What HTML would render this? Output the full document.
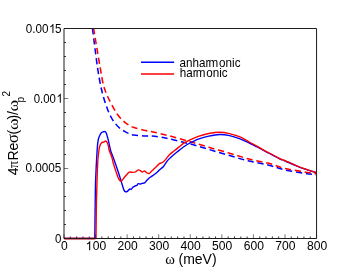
<!DOCTYPE html>
<html><head><meta charset="utf-8"><style>
html,body{margin:0;padding:0;background:#fff;}
svg{display:block;will-change:transform;font-family:"Liberation Sans",sans-serif;}
</style></head><body>
<svg width="357" height="276" viewBox="0 0 357 276">
<rect width="357" height="276" fill="#fff"/>
<g fill="none" stroke-linejoin="round">
<path d="M64.5,238.5 H95" stroke="#ffd5e2" stroke-width="3.2"/>
<path d="M92.50,28.40 C92.95,32.00 94.30,43.07 95.20,50.00 C96.10,56.93 96.98,64.05 97.90,70.00 C98.82,75.95 99.75,81.12 100.70,85.70 C101.65,90.28 102.47,93.58 103.60,97.50 C104.73,101.42 106.27,105.95 107.50,109.20 C108.73,112.45 109.85,114.82 111.00,117.00 C112.15,119.18 113.07,120.55 114.40,122.30 C115.73,124.05 117.37,126.02 119.00,127.50 C120.63,128.98 122.53,130.18 124.20,131.20 C125.87,132.22 127.37,132.95 129.00,133.60 C130.63,134.25 131.53,134.72 134.00,135.10 C136.47,135.48 140.80,135.75 143.80,135.90 C146.80,136.05 149.30,135.82 152.00,136.00 C154.70,136.18 157.07,136.50 160.00,137.00 C162.93,137.50 164.73,137.88 169.60,139.00 C174.47,140.12 182.67,141.97 189.20,143.70 C195.73,145.43 202.07,147.42 208.80,149.40 C215.53,151.38 222.87,153.65 229.60,155.60 C236.33,157.55 242.67,159.50 249.20,161.10 C255.73,162.70 262.90,163.73 268.80,165.20 C274.70,166.67 278.70,168.57 284.60,169.90 C290.50,171.23 298.87,172.38 304.20,173.20 C309.53,174.02 314.53,174.53 316.60,174.80" stroke="#0000ff" stroke-width="1.55" stroke-dasharray="6.2 3.72" stroke-dashoffset="-0.07"/>
<path d="M93.60,28.40 C94.20,32.00 96.03,43.07 97.20,50.00 C98.37,56.93 99.53,64.05 100.60,70.00 C101.67,75.95 102.35,81.12 103.60,85.70 C104.85,90.28 106.30,93.52 108.10,97.50 C109.90,101.48 112.58,106.43 114.40,109.60 C116.22,112.77 117.37,114.47 119.00,116.50 C120.63,118.53 122.53,120.35 124.20,121.80 C125.87,123.25 127.37,124.23 129.00,125.20 C130.63,126.17 131.53,126.77 134.00,127.60 C136.47,128.43 140.80,129.52 143.80,130.20 C146.80,130.88 149.30,131.13 152.00,131.70 C154.70,132.27 157.07,132.90 160.00,133.60 C162.93,134.30 164.73,134.60 169.60,135.90 C174.47,137.20 182.67,139.50 189.20,141.40 C195.73,143.30 202.07,145.33 208.80,147.30 C215.53,149.27 222.87,151.23 229.60,153.20 C236.33,155.17 242.67,157.42 249.20,159.10 C255.73,160.78 262.90,161.77 268.80,163.30 C274.70,164.83 278.70,166.87 284.60,168.30 C290.50,169.73 298.87,170.98 304.20,171.90 C309.53,172.82 314.53,173.48 316.60,173.80" stroke="#ff0000" stroke-width="1.55" stroke-dasharray="6.2 3.743" stroke-dashoffset="0.27"/>
<path d="M64.00,238.40 L94.80,238.40 L95.20,203.00 C95.28,199.07 95.33,188.23 95.65,179.40 C95.98,170.57 96.71,156.67 97.15,150.00 C97.59,143.33 97.83,141.90 98.30,139.40 C98.77,136.90 99.45,136.13 100.00,135.00 C100.55,133.87 101.10,133.13 101.60,132.60 C102.10,132.07 102.40,131.97 103.00,131.80 C103.60,131.63 104.63,131.33 105.20,131.60 C105.77,131.87 105.92,132.10 106.40,133.40 C106.88,134.70 107.42,136.63 108.10,139.40 C108.78,142.17 109.93,147.72 110.50,150.00 C111.07,152.28 110.87,151.35 111.50,153.10 C112.13,154.85 113.13,157.23 114.30,160.50 C115.47,163.77 117.22,168.78 118.50,172.70 C119.78,176.62 121.07,181.05 122.00,184.00 C122.93,186.95 123.47,189.10 124.10,190.40 C124.73,191.70 125.20,191.68 125.80,191.80 C126.40,191.92 127.03,191.57 127.70,191.10 C128.37,190.63 129.22,189.28 129.80,189.00 C130.38,188.72 130.73,189.65 131.20,189.40 C131.67,189.15 132.02,188.05 132.60,187.50 C133.18,186.95 134.00,186.45 134.70,186.10 C135.40,185.75 136.22,185.80 136.80,185.40 C137.38,185.00 137.60,183.93 138.20,183.70 C138.80,183.47 139.68,184.07 140.40,184.00 C141.12,183.93 141.80,183.48 142.50,183.30 C143.20,183.12 143.90,183.37 144.60,182.90 C145.30,182.43 145.88,181.37 146.70,180.50 C147.52,179.63 148.55,178.48 149.50,177.70 C150.45,176.92 151.38,176.50 152.40,175.80 C153.42,175.10 154.67,174.23 155.60,173.50 C156.53,172.77 157.17,172.17 158.00,171.40 C158.83,170.63 159.68,169.72 160.60,168.90 C161.52,168.08 162.35,167.88 163.50,166.50 C164.65,165.12 166.18,162.23 167.50,160.60 C168.82,158.97 169.77,158.17 171.40,156.70 C173.03,155.23 175.35,153.37 177.30,151.80 C179.25,150.23 181.15,148.68 183.10,147.30 C185.05,145.92 187.37,144.45 189.00,143.50 C190.63,142.55 191.23,142.38 192.90,141.60 C194.57,140.82 196.35,139.72 199.00,138.80 C201.65,137.88 205.37,136.82 208.80,136.10 C212.23,135.38 216.13,134.58 219.60,134.50 C223.07,134.42 226.30,134.92 229.60,135.60 C232.90,136.28 236.13,137.37 239.40,138.60 C242.67,139.83 245.93,141.44 249.20,143.00 C252.47,144.56 255.73,146.26 259.00,147.95 C262.27,149.64 265.37,151.34 268.80,153.15 C272.23,154.96 276.97,157.53 279.60,158.80 C282.23,160.07 282.13,159.72 284.60,160.75 C287.07,161.78 291.13,163.65 294.40,165.00 C297.67,166.35 300.50,167.57 304.20,168.85 C307.90,170.13 314.53,172.06 316.60,172.70" stroke="#0000ff" stroke-width="1.4"/>
<path d="M64.00,238.45 L96.00,238.45 L96.40,203.00 C96.53,198.42 96.98,182.17 97.20,175.50 C97.42,168.83 97.52,166.40 97.70,163.00 C97.88,159.60 97.97,157.88 98.30,155.10 C98.63,152.32 99.15,148.35 99.70,146.30 C100.25,144.25 100.92,143.50 101.60,142.80 C102.28,142.10 103.10,142.40 103.80,142.10 C104.50,141.80 105.22,140.88 105.80,141.00 C106.38,141.12 106.85,141.92 107.30,142.80 C107.75,143.68 108.20,145.10 108.50,146.30 C108.80,147.50 108.55,148.22 109.10,150.00 C109.65,151.78 111.13,154.92 111.80,157.00 C112.47,159.08 112.63,160.78 113.10,162.50 C113.57,164.22 114.05,165.60 114.60,167.30 C115.15,169.00 115.70,170.73 116.40,172.70 C117.10,174.67 118.03,177.68 118.80,179.10 C119.57,180.52 120.12,181.43 121.00,181.20 C121.88,180.97 122.98,179.00 124.10,177.70 C125.22,176.40 126.75,174.35 127.70,173.40 C128.65,172.45 128.87,172.17 129.80,172.00 C130.73,171.83 132.37,172.40 133.30,172.40 C134.23,172.40 134.58,172.42 135.40,172.00 C136.22,171.58 137.37,170.13 138.20,169.90 C139.03,169.67 139.73,170.25 140.40,170.60 C141.07,170.95 141.50,171.93 142.20,172.00 C142.90,172.07 143.80,170.83 144.60,171.00 C145.40,171.17 146.22,172.60 147.00,173.00 C147.78,173.40 148.52,173.73 149.30,173.40 C150.08,173.07 150.72,171.93 151.70,171.00 C152.68,170.07 153.92,169.03 155.20,167.80 C156.48,166.57 158.18,164.48 159.40,163.60 C160.62,162.72 161.48,163.17 162.50,162.50 C163.52,161.83 164.35,160.90 165.50,159.60 C166.65,158.30 167.93,156.17 169.40,154.70 C170.87,153.23 172.67,152.10 174.30,150.80 C175.93,149.50 177.57,148.22 179.20,146.90 C180.83,145.58 182.43,143.98 184.10,142.90 C185.77,141.82 186.72,141.53 189.20,140.40 C191.68,139.27 195.73,137.25 199.00,136.10 C202.27,134.95 205.37,134.15 208.80,133.50 C212.23,132.85 216.13,132.18 219.60,132.20 C223.07,132.22 226.30,132.85 229.60,133.60 C232.90,134.35 236.13,135.30 239.40,136.70 C242.67,138.10 245.93,140.22 249.20,142.00 C252.47,143.78 255.73,145.60 259.00,147.40 C262.27,149.20 265.37,150.95 268.80,152.80 C272.23,154.65 276.97,157.22 279.60,158.50 C282.23,159.78 282.13,159.45 284.60,160.50 C287.07,161.55 291.13,163.43 294.40,164.80 C297.67,166.17 300.50,167.40 304.20,168.70 C307.90,170.00 314.53,171.95 316.60,172.60" stroke="#ff0000" stroke-width="1.4"/>
<path d="M141,62.35 H174.1" stroke="#0000ff" stroke-width="1.5"/>
<path d="M141,73.95 H174.1" stroke="#ff0000" stroke-width="1.5"/>
</g>
<g fill="none" stroke="#1c1c1c" stroke-width="1">
<path d="M64.0,28.5 H316.56 V238.5 H64.0 Z"/>
<path d="M64.00,238.5 v-4.2 M95.57,238.5 v-4.2 M127.14,238.5 v-4.2 M158.71,238.5 v-4.2 M190.28,238.5 v-4.2 M221.85,238.5 v-4.2 M253.42,238.5 v-4.2 M284.99,238.5 v-4.2 M316.56,238.5 v-4.2 M64.0,238.50 h4.2 M64.0,168.50 h4.2 M64.0,98.50 h4.2 M64.0,28.50 h4.2" stroke-width="0.6"/>
<path d="M70.31,238.5 v-2.0 M76.63,238.5 v-2.0 M82.94,238.5 v-2.0 M89.26,238.5 v-2.0 M101.88,238.5 v-2.0 M108.20,238.5 v-2.0 M114.51,238.5 v-2.0 M120.83,238.5 v-2.0 M133.45,238.5 v-2.0 M139.77,238.5 v-2.0 M146.08,238.5 v-2.0 M152.40,238.5 v-2.0 M165.02,238.5 v-2.0 M171.34,238.5 v-2.0 M177.65,238.5 v-2.0 M183.97,238.5 v-2.0 M196.59,238.5 v-2.0 M202.91,238.5 v-2.0 M209.22,238.5 v-2.0 M215.54,238.5 v-2.0 M228.16,238.5 v-2.0 M234.48,238.5 v-2.0 M240.79,238.5 v-2.0 M247.11,238.5 v-2.0 M259.73,238.5 v-2.0 M266.05,238.5 v-2.0 M272.36,238.5 v-2.0 M278.68,238.5 v-2.0 M291.30,238.5 v-2.0 M297.62,238.5 v-2.0 M303.93,238.5 v-2.0 M310.25,238.5 v-2.0 M64.0,224.50 h2.0 M64.0,210.50 h2.0 M64.0,196.50 h2.0 M64.0,182.50 h2.0 M64.0,154.50 h2.0 M64.0,140.50 h2.0 M64.0,126.50 h2.0 M64.0,112.50 h2.0 M64.0,84.50 h2.0 M64.0,70.50 h2.0 M64.0,56.50 h2.0 M64.0,42.50 h2.0" stroke-width="0.9"/>
<path d="M64.4,239.0 H94.4" stroke="#50000f" stroke-width="0.6" stroke-opacity="0.8"/>
</g>
<g font-size="12px" fill="#000">
<g transform="translate(64.4,250.2) scale(1.01,1.04)"><text x="-3.336" y="0">0</text></g><g transform="translate(96.0,250.2) scale(1.01,1.04)"><path transform="translate(-10.208,0) scale(0.005859,-0.005859)" d="M763,0 H583 V1147 Q518,1085 412.5,1023 Q307,961 223,930 V1104 Q374,1175 487,1276 Q600,1377 647,1472 H763 Z"/><text x="-3.336" y="0">00</text></g><g transform="translate(127.5,250.2) scale(1.01,1.04)"><text x="-10.008" y="0">200</text></g><g transform="translate(159.1,250.2) scale(1.01,1.04)"><text x="-10.008" y="0">300</text></g><g transform="translate(190.7,250.2) scale(1.01,1.04)"><text x="-10.008" y="0">400</text></g><g transform="translate(222.2,250.2) scale(1.01,1.04)"><text x="-10.008" y="0">500</text></g><g transform="translate(253.8,250.2) scale(1.01,1.04)"><text x="-10.008" y="0">600</text></g><g transform="translate(285.4,250.2) scale(1.01,1.04)"><text x="-10.008" y="0">700</text></g><g transform="translate(317.0,250.2) scale(1.01,1.04)"><text x="-10.008" y="0">800</text></g>
<g transform="translate(61.5,243.05) scale(0.96,1.04)"><text x="-6.672" y="0">0</text></g><g transform="translate(61.4,172.45) scale(0.98,1.04)"><text x="-36.696" y="0">0.0005</text></g><g transform="translate(62.3,102.8) scale(0.95,1.04)"><text x="-30.024" y="0">0.00</text><path transform="translate(-6.072,0) scale(0.005859,-0.005859)" d="M763,0 H583 V1147 Q518,1085 412.5,1023 Q307,961 223,930 V1104 Q374,1175 487,1276 Q600,1377 647,1472 H763 Z"/></g><g transform="translate(61.5,33.05) scale(0.975,1.04)"><text x="-36.696" y="0">0.00</text><path transform="translate(-12.744,0) scale(0.005859,-0.005859)" d="M763,0 H583 V1147 Q518,1085 412.5,1023 Q307,961 223,930 V1104 Q374,1175 487,1276 Q600,1377 647,1472 H763 Z"/><text x="-6.672" y="0">5</text></g>
<text transform="translate(179.6,66.8) scale(0.972,1.02)">anhar<tspan dx="-0.9">m</tspan><tspan dx="0.9">onic</tspan></text>
<text transform="translate(179.7,77.4) scale(0.972,1.02)">har<tspan dx="-0.9">m</tspan><tspan dx="0.9">onic</tspan></text>
</g>
<text transform="translate(165.2,263.5) scale(1.05,1.06)" font-size="14px" font-family="Liberation Serif">ω</text>
<text x="216.6" y="263.5" font-size="14px" text-anchor="end">(meV)</text>
<g transform="translate(18,175.3) rotate(-90)" font-size="14px">
<text transform="translate(0,0) scale(1,1)" font-size="14px" >4</text><text transform="translate(7.4,0) scale(1,1)" font-size="14px" font-family="Liberation Serif">π</text><text transform="translate(14.8,0) scale(1,1)" font-size="14px" >R</text><text transform="translate(24.8,0) scale(1,1)" font-size="14px" >e</text><text transform="translate(32.3,0) scale(1.17,1.2)" font-size="14px" font-family="Liberation Serif">σ</text><text transform="translate(40.7,0) scale(1,1)" font-size="14px" >(</text><text transform="translate(45.2,0) scale(1.26,1.08)" font-size="14px" font-family="Liberation Serif">ω</text><text transform="translate(55.7,0) scale(1,1)" font-size="14px" >)</text><text transform="translate(60.3,0) scale(1,1)" font-size="14px" >/</text><text transform="translate(63.7,0) scale(1.26,1.08)" font-size="14px" font-family="Liberation Serif">ω</text><text transform="translate(72.8,5.9) scale(1,1)" font-size="10px" >p</text><text transform="translate(78.9,-8.1) scale(1,1)" font-size="10px" >2</text>
</g>
</svg>
</body></html>
